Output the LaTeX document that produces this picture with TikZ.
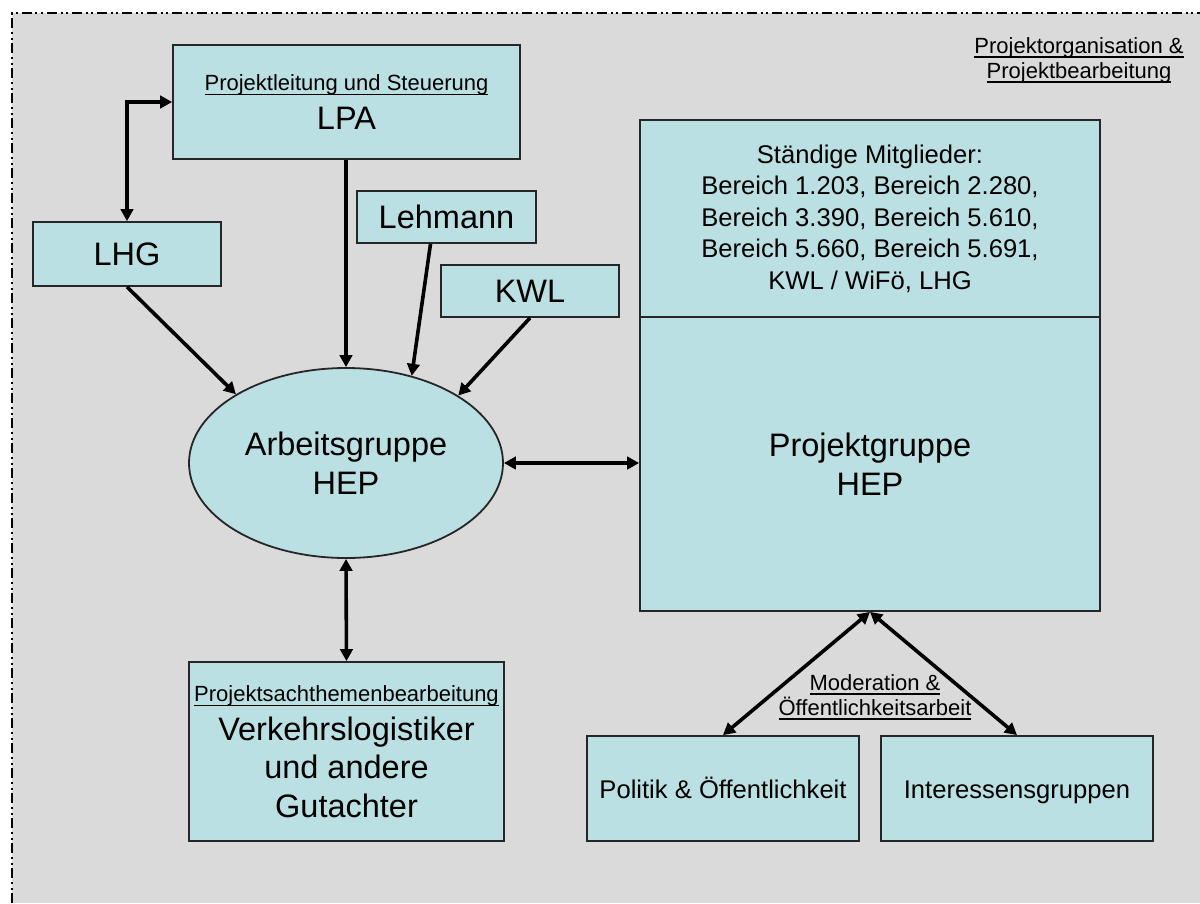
\documentclass[tikz,border=0pt]{standalone}
\usepackage{fontspec}
\setmainfont{Liberation Sans}
\usetikzlibrary{arrows.meta,shapes.geometric}
\definecolor{boxcyan}{RGB}{187,224,227}
\definecolor{sheet}{RGB}{218,218,218}
\newcommand{\smallsz}{\fontsize{22}{25}\selectfont}
\newcommand{\bigsz}{\fontsize{32.5}{38.5}\selectfont}
\newcommand{\ulabel}[1]{\leavevmode\setbox0\hbox{#1}\rlap{\rule[-4.5pt]{\wd0}{1.4pt}}\box0}

\begin{document}
\begin{tikzpicture}[x=1pt,y=-1pt,
    box/.style={draw=black!85,line width=1.8pt,fill=boxcyan,inner sep=0pt,align=center},
    bigtext/.style={font=\bigsz},
    midtext/.style={font=\fontsize{25.6}{31.5}\selectfont},
    link/.style={line width=3.6pt},
    >={Triangle[length=12pt,width=12.5pt]}]
            \useasboundingbox (0,0) rectangle (1200,903);
            \fill[sheet] (12,13) rectangle (1200,903);
            \draw[line width=1.4pt,dash pattern=on 10pt off 3.5pt on 2pt off 3.5pt on 2pt off 4pt] (12,903) -- (12,13) -- (1200,13);
            % Steuerung und Beteiligte
            \node[box,bigtext,minimum width=347pt,minimum height=114pt] (lpa) at (346.5,102) {\smallsz\ulabel{Projektleitung und Steuerung}\\\bigsz LPA};
            \node[box,bigtext,minimum width=188pt,minimum height=64pt] (lhg) at (127,254) {LHG};
            \node[box,bigtext,minimum width=179pt,minimum height=52pt] (lehmann) at (446.5,217) {Lehmann};
            \node[box,bigtext,minimum width=178pt,minimum height=52pt] (kwl) at (530,291) {KWL};
            \node[box,bigtext,ellipse,minimum width=314pt,minimum height=190pt] (agr) at (346,463) {Arbeitsgruppe\\HEP};
            % Projektgruppe
            \node[box,midtext,minimum width=460pt,minimum height=197pt] (mitglieder) at (870,218.5) {St\"andige Mitglieder:\\Bereich 1.203, Bereich 2.280,\\Bereich 3.390, Bereich 5.610,\\Bereich 5.660, Bereich 5.691,\\KWL / WiF\"o, LHG};
            \node[box,bigtext,minimum width=460pt,minimum height=294pt] (pgruppe) at (870,464) {Projektgruppe\\HEP};
            \node[box,bigtext,minimum width=315pt,minimum height=179pt] (gutachter) at (346.5,751.5) {\smallsz\ulabel{Projektsachthemenbearbeitung}\\\bigsz Verkehrslogistiker\\und andere\\Gutachter};
            \node[box,midtext,minimum width=272pt,minimum height=105pt,text height=19pt,text depth=0pt] (politik) at (723,788.5) {Politik \& \"Offentlichkeit};
            \node[box,midtext,minimum width=272pt,minimum height=105pt,text height=19pt,text depth=0pt] (interessen) at (1017,788.5) {Interessensgruppen};
            \node[font=\smallsz,align=center] (titel) at (1079,60) {\ulabel{Projektorganisation \&}\\\ulabel{Projektbearbeitung}};
            \node[font=\smallsz,align=center] (moderation) at (875,697) {\ulabel{Moderation \&}\\\ulabel{\"Offentlichkeitsarbeit}};
            % Verbindungen
            \draw[link,<->] (lpa.west) -| (lhg.north);
            \draw[link,->] (lpa.south -| agr.north) -- (agr.north);
            \draw[link,->] (lhg.south) -- (agr.148);
            \draw[link,->] ([xshift=-16pt]lehmann.south) -- (agr.53);
            \draw[link,->] (kwl.south) -- (agr.31);
            \draw[link,<->] (agr.east) -- (agr.east -| pgruppe.west);
            \draw[link,<->] (agr.south) -- (gutachter.north);
            \draw[link,<->] (pgruppe.south) -- (politik.north);
            \draw[link,<->] (pgruppe.south) -- (interessen.north);
        \end{tikzpicture}
\end{document}
